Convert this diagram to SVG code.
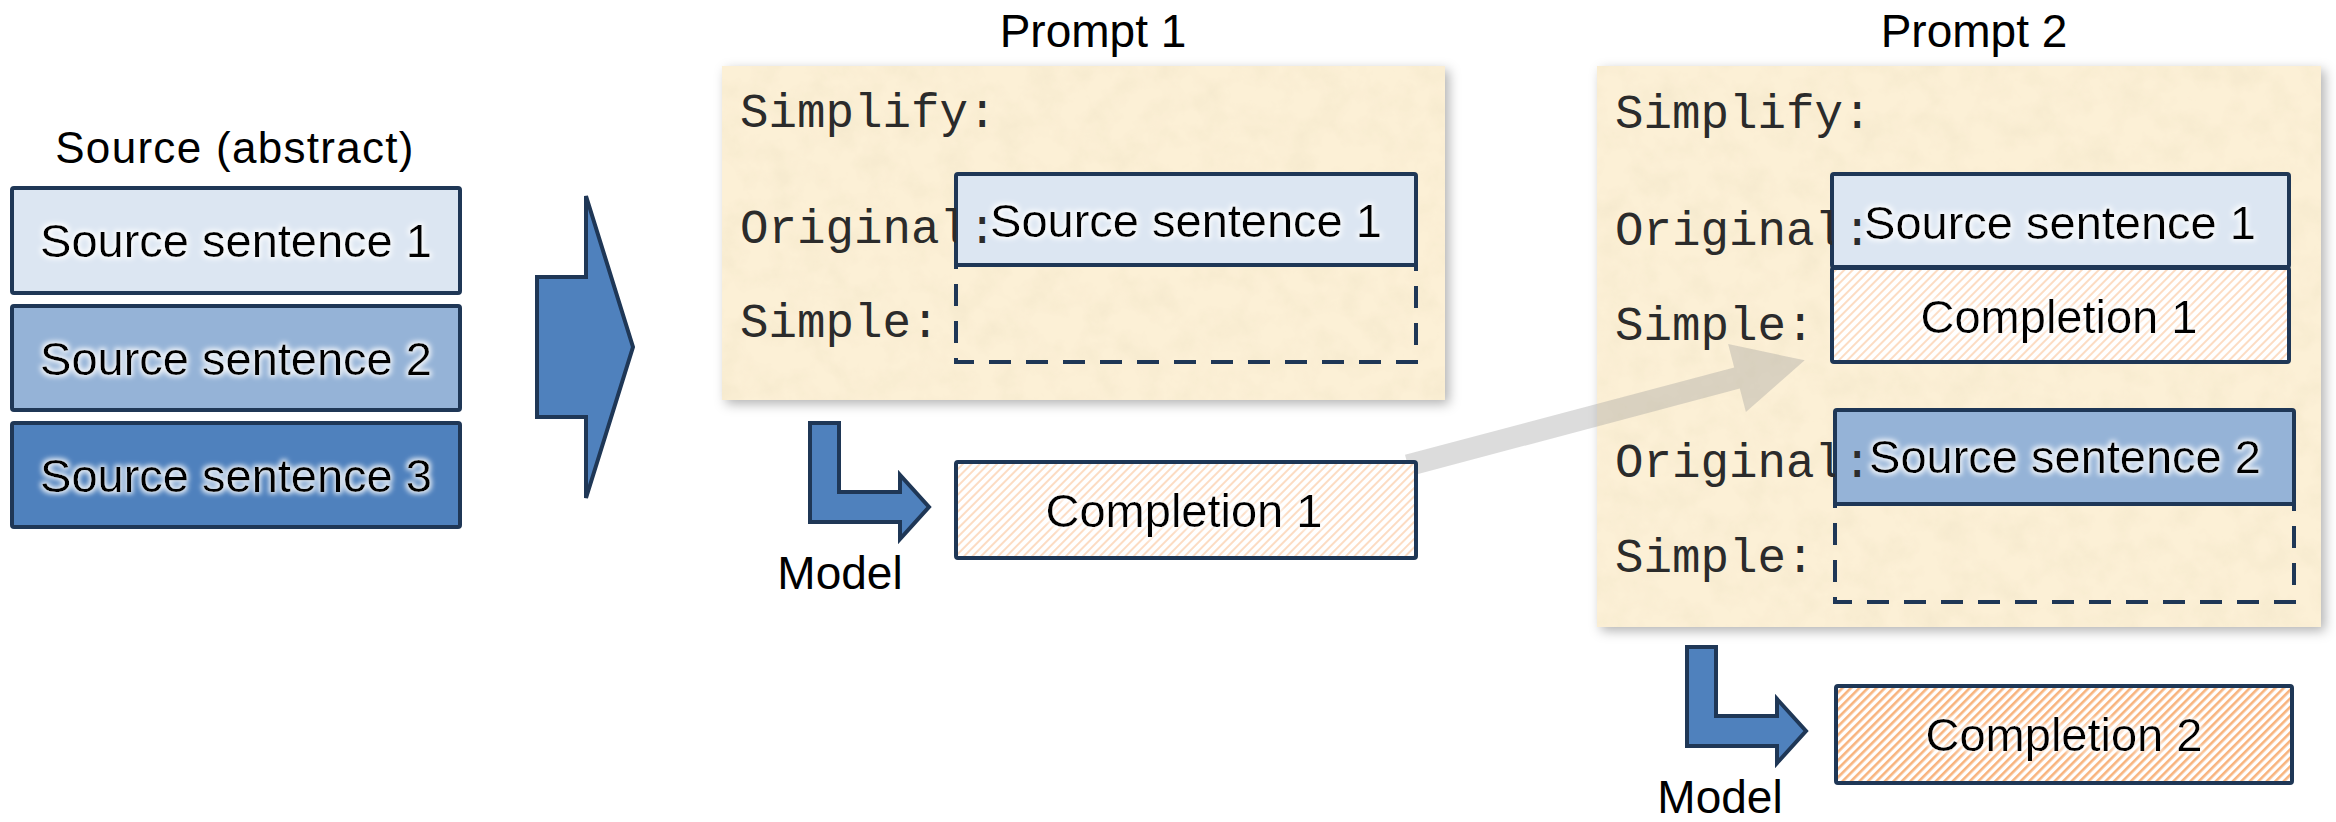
<svg xmlns="http://www.w3.org/2000/svg" width="2336" height="822" viewBox="0 0 2336 822">
<style>
.sans{font-family:"Liberation Sans",Arial,sans-serif;fill:#000}
.mono{font-family:"Courier New","Nimbus Mono PS","FreeMono","Liberation Mono",monospace;font-size:47.5px;fill:#2b2b2b}
.lbl{font-size:47px;text-anchor:middle}
.ttl{font-size:46px;text-anchor:middle}
.box{stroke:#1f3756;stroke-width:4}
.dash{fill:none;stroke:#1f3756;stroke-width:4;stroke-dasharray:22 15}
.arr{fill:#4f81bd;stroke:#1f3756;stroke-width:4;stroke-linejoin:miter}
.s1{fill:#dce6f2}.s2{fill:#95b3d7}.s3{fill:#4f81bd}
.paper{fill:#fcf0d6}
</style>
<defs>
<filter id="glow" x="-10%" y="-40%" width="120%" height="180%">
<feMorphology in="SourceAlpha" operator="dilate" radius="2" result="d"/>
<feGaussianBlur in="d" stdDeviation="2.5" result="b"/>
<feFlood flood-color="#ffffff" flood-opacity="0.85"/>
<feComposite in2="b" operator="in" result="g"/>
<feMerge><feMergeNode in="g"/><feMergeNode in="SourceGraphic"/></feMerge>
</filter>
<filter id="shadow" x="-5%" y="-5%" width="112%" height="112%">
<feGaussianBlur in="SourceAlpha" stdDeviation="6"/>
<feOffset dx="4" dy="4" result="o"/>
<feFlood flood-color="#000" flood-opacity="0.3"/>
<feComposite in2="o" operator="in" result="s"/>
<feMerge><feMergeNode in="s"/><feMergeNode in="SourceGraphic"/></feMerge>
</filter>
<filter id="paper" x="0" y="0" width="100%" height="100%">
<feTurbulence type="fractalNoise" baseFrequency="0.035" numOctaves="4" seed="7" result="n"/>
<feColorMatrix in="n" type="matrix" values="0 0 0 0 0.88 0 0 0 0 0.78 0 0 0 0 0.58 1.1 0 0 0 -0.45" result="c"/>
<feComposite in="c" in2="SourceGraphic" operator="in" result="t"/>
<feMerge><feMergeNode in="SourceGraphic"/><feMergeNode in="t"/></feMerge>
</filter>
<pattern id="hatchLight" width="6" height="6" patternUnits="userSpaceOnUse" patternTransform="rotate(45)">
<rect width="6" height="6" fill="#ffffff"/><rect width="2" height="6" fill="#fcdcc3"/>
</pattern>
<pattern id="hatchStrong" width="6" height="6" patternUnits="userSpaceOnUse" patternTransform="rotate(45)">
<rect width="6" height="6" fill="#ffffff"/><rect width="2.6" height="6" fill="#f8b47e"/>
</pattern>
<clipPath id="clipO1"><rect x="700" y="0" width="256" height="822"/><rect x="970" y="0" width="26" height="822"/></clipPath>
<clipPath id="clipO2"><rect x="1590" y="0" width="242" height="300"/><rect x="1846" y="0" width="26" height="300"/></clipPath>
<clipPath id="clipO3"><rect x="1590" y="300" width="245" height="300"/><rect x="1846" y="300" width="26" height="300"/></clipPath>
</defs>

<g id="source">
<text class="sans" x="235" y="163" font-size="44" text-anchor="middle" letter-spacing="1.3">Source (abstract)</text>
<g id="src1"><rect class="box s1" x="12" y="188" width="448" height="105" rx="2"/><text class="sans lbl" x="236" y="257" filter="url(#glow)">Source sentence 1</text></g>
<g id="src2"><rect class="box s2" x="12" y="306" width="448" height="104" rx="2"/><text class="sans lbl" x="236" y="375" filter="url(#glow)">Source sentence 2</text></g>
<g id="src3"><rect class="box s3" x="12" y="423" width="448" height="104" rx="2"/><text class="sans lbl" x="236" y="492" filter="url(#glow)">Source sentence 3</text></g>
</g>

<g id="prompt1">
<text class="sans ttl" x="1093" y="47">Prompt 1</text>
<g filter="url(#shadow)"><rect class="paper" x="722" y="66" width="723" height="334" filter="url(#paper)"/></g>
<text class="mono" x="740" y="127">Simplify:</text>
<text class="mono" x="740" y="337">Simple:</text>
<rect class="dash" x="956" y="265" width="460" height="97"/>
<rect class="box s1" x="956" y="174" width="460" height="91" rx="2"/>
<text class="sans lbl" x="1186" y="237" filter="url(#glow)">Source sentence 1</text>
<text class="mono" x="740" y="243" clip-path="url(#clipO1)">Original:</text>
</g>

<g id="prompt2">
<text class="sans ttl" x="1974" y="47">Prompt 2</text>
<g filter="url(#shadow)"><rect class="paper" x="1597" y="66" width="724" height="561" filter="url(#paper)"/></g>
<text class="mono" x="1615" y="128">Simplify:</text>
<text class="mono" x="1615" y="340">Simple:</text>
<text class="mono" x="1615" y="572">Simple:</text>
<rect class="box" x="1832" y="268" width="457" height="94" rx="2" fill="url(#hatchLight)"/>
<text class="sans lbl" x="2059" y="333" filter="url(#glow)">Completion 1</text>
<rect class="box s1" x="1832" y="174" width="457" height="93" rx="2"/>
<text class="sans lbl" x="2060" y="239" filter="url(#glow)">Source sentence 1</text>
<rect class="dash" x="1835" y="504" width="459" height="98"/>
<rect class="box s2" x="1835" y="410" width="459" height="94" rx="2"/>
<text class="sans lbl" x="2065" y="473" filter="url(#glow)">Source sentence 2</text>
<text class="mono" x="1615" y="245" clip-path="url(#clipO2)">Original:</text>
<text class="mono" x="1615" y="477" clip-path="url(#clipO3)">Original:</text>
</g>

<g id="connectors">
<polygon class="arr" points="537,277 586,277 586,196 633,347 586,498 586,417 537,417"/>
<polygon fill="#9a9a9a" fill-opacity="0.35" points="1405,454.8 1734.2,367.4 1728.1,344.1 1804.7,360.3 1745.9,411.9 1739.8,388.6 1410.6,476"/>
<polygon class="arr" points="810,423 839,423 839,492 900,492 900,475 929,507 900,539 900,522 810,522"/>
<polygon class="arr" points="1687,647 1716,647 1716,716 1777,716 1777,699 1806,731 1777,763 1777,746 1687,746"/>
</g>

<g id="completion1">
<rect class="box" x="956" y="462" width="460" height="96" rx="2" fill="url(#hatchLight)"/>
<text class="sans lbl" x="1184" y="527" filter="url(#glow)">Completion 1</text>
</g>
<g id="model1"><text class="sans ttl" x="840" y="589">Model</text></g>

<g id="completion2">
<rect class="box" x="1836" y="686" width="456" height="97" rx="2" fill="url(#hatchStrong)"/>
<text class="sans lbl" x="2064" y="751" filter="url(#glow)">Completion 2</text>
</g>
<g id="model2"><text class="sans ttl" x="1720" y="813">Model</text></g>
</svg>
